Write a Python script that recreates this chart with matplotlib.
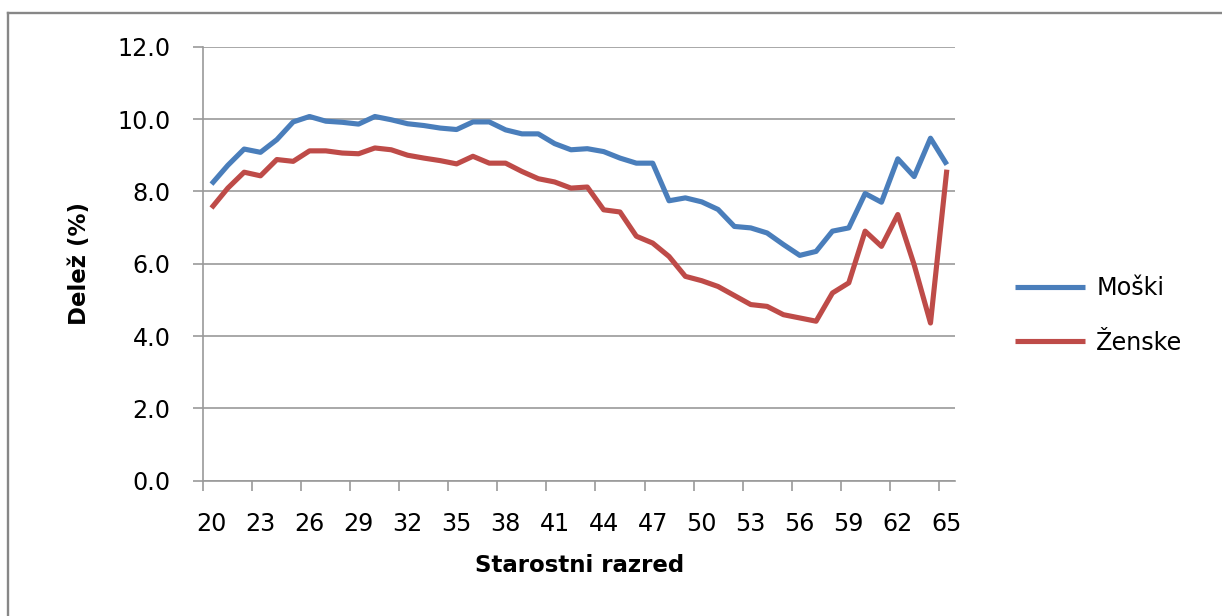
import matplotlib.pyplot as plt
from matplotlib.lines import Line2D
from matplotlib.ticker import FixedLocator, FormatStrFormatter

# ============================================================
# Data
# ============================================================

AGES = list(range(20, 66))

MOSKI = [8.20, 8.72, 9.17, 9.08, 9.43, 9.92, 10.07, 9.94, 9.91, 9.86,
         10.07, 9.98, 9.87, 9.82, 9.75, 9.71, 9.92, 9.92, 9.70, 9.59,
         9.59, 9.32, 9.15, 9.18, 9.10, 8.92, 8.78, 8.78, 7.74, 7.82,
         7.71, 7.50, 7.03, 6.99, 6.85, 6.53, 6.23, 6.34, 6.90, 6.99,
         7.94, 7.70, 8.90, 8.41, 9.47, 8.74]

ZENSKE = [7.54, 8.09, 8.53, 8.43, 8.88, 8.83, 9.12, 9.12, 9.06, 9.04,
          9.20, 9.15, 9.00, 8.92, 8.85, 8.76, 8.97, 8.78, 8.78, 8.55,
          8.35, 8.26, 8.09, 8.12, 7.49, 7.43, 6.76, 6.57, 6.20, 5.65,
          5.53, 5.37, 5.12, 4.87, 4.82, 4.59, 4.50, 4.41, 5.19, 5.47,
          6.90, 6.48, 7.36, 5.97, 4.36, 8.60]

SERIES_NAMES = ["Moški", "Ženske"]
COLORS = ["#4A7EBB", "#BE4B48"]

W, H = 1222, 616
FS = 17.2
GRID = "#9A9A9A"

plt.rcParams["font.family"] = ["DejaVu Sans"]

fig = plt.figure(figsize=(W / 100, H / 100), dpi=100)

# chart area border: only the left and top edges fall inside the image
bx, by = 8 / W, 1 - 12.5 / H
fig.add_artist(Line2D([bx, bx], [0, by], transform=fig.transFigure,
                      color="#878787", linewidth=1.7))
fig.add_artist(Line2D([bx, 1], [by, by], transform=fig.transFigure,
                      color="#878787", linewidth=1.7, solid_capstyle="projecting"))

ax = fig.add_axes([203.3 / W, 1 - 480.7 / H, (955 - 203.3) / W, (480.7 - 46.7) / H])

x = list(range(len(AGES)))
for vals, name, col in zip([MOSKI, ZENSKE], SERIES_NAMES, COLORS):
    ax.plot(x, vals, color=col, linewidth=3.7, label=name,
            solid_joinstyle="round", solid_capstyle="butt")

ax.set_xlim(-0.5, len(AGES) - 0.5)
ax.set_ylim(0, 12)

# y axis
ax.set_yticks([0, 2, 4, 6, 8, 10, 12])
ax.yaxis.set_major_formatter(FormatStrFormatter("%.1f"))
ax.grid(axis="y", color=GRID, linewidth=1.2)
ax.set_axisbelow(True)
ax.tick_params(axis="y", direction="out", length=7.5, width=1.2, color=GRID,
               pad=16, labelsize=FS)

# x axis: tick marks between categories, labels every 3rd category
ax.xaxis.set_major_locator(FixedLocator([b - 0.5 for b in range(0, len(AGES), 3)]))
ax.xaxis.set_minor_locator(FixedLocator(list(range(0, len(AGES), 3))))
ax.set_xticklabels([], minor=False)
ax.set_xticklabels([str(AGES[i]) for i in range(0, len(AGES), 3)], minor=True)
ax.tick_params(axis="x", which="major", direction="out", length=7, width=1.2,
               color=GRID)
ax.tick_params(axis="x", which="minor", length=0, pad=22.5, labelsize=FS)

for s in ["top", "right"]:
    ax.spines[s].set_visible(False)
for s in ["left", "bottom"]:
    ax.spines[s].set_color(GRID)
    ax.spines[s].set_linewidth(1.2)

ax.set_xlabel("Starostni razred", fontsize=16.5, fontweight="bold", labelpad=13)
ax.set_ylabel("Delež (%)", fontsize=16.5, fontweight="bold", labelpad=19)

fig.legend(loc="center left", bbox_to_anchor=(1015 / W, 1 - 315.5 / H),
           frameon=False, fontsize=FS, handlelength=2.95, handletextpad=0.45,
           labelspacing=1.27, borderpad=0, borderaxespad=0)

fig.savefig("out.png", dpi=100)
